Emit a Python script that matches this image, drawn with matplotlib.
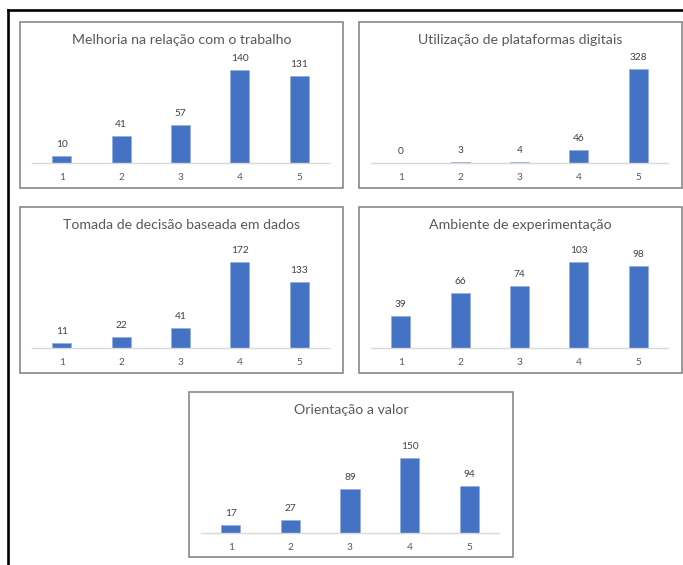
"""Painel com cinco gráficos de barras (escala 1 a 5) sobre práticas de dados."""

import matplotlib.pyplot as plt
from matplotlib.lines import Line2D
from matplotlib.patches import Rectangle

plt.rcParams["font.family"] = ["Lato", "DejaVu Sans"]

categorias = ["1", "2", "3", "4", "5"]

titulos = [
    "Melhoria na relação com o trabalho",
    "Utilização de plataformas digitais",
    "Tomada de decisão baseada em dados",
    "Ambiente de experimentação",
    "Orientação a valor",
]

melhoria = [10, 41, 57, 140, 131]
plataformas = [0, 3, 4, 46, 328]
decisao = [11, 22, 41, 172, 133]
experimentacao = [39, 66, 74, 103, 98]
orientacao = [17, 27, 89, 150, 94]

series = [melhoria, plataformas, decisao, experimentacao, orientacao]

# máximo do eixo y de cada gráfico (eixo não é exibido)
ymax = [150, 350, 200, 120, 200]

# caixas dos gráficos em pixels: (esquerda, topo, largura, altura)
caixas = [
    (20, 22, 323, 166),
    (359, 22, 323, 166),
    (20, 207, 323, 166),
    (359, 207, 323, 166),
    (189, 392, 324, 165),
]

W, H = 683, 565
AZUL = "#4472C4"
CINZA_TEXTO = "#595959"

fig = plt.figure(figsize=(W / 100, H / 100), dpi=100)


def fx(px):
    return px / W


def fy(py):
    return 1 - py / H


# moldura preta (topo e lado esquerdo)
fig.add_artist(Line2D([fx(8), fx(683)], [fy(10), fy(10)], color="black", lw=1.9))
fig.add_artist(Line2D([fx(8), fx(8)], [fy(10), fy(565)], color="black", lw=1.9))

for titulo, valores, top, (x0, y0, w, h) in zip(titulos, series, ymax, caixas):
    fig.add_artist(Rectangle((fx(x0), fy(y0 + h)), w / W, h / H,
                             transform=fig.transFigure, fill=False,
                             edgecolor="#7f7f7f", lw=1.1))
    fig.text(fx(x0 + w / 2), fy(y0 + 18), titulo, ha="center", va="center",
             fontsize=10.2, color=CINZA_TEXTO)

    base = y0 + 141
    ax = fig.add_axes([fx(x0 + 12), fy(base), (w - 26) / W, 100 / H])
    pos = range(1, len(categorias) + 1)
    barras = ax.bar(pos, valores, width=0.32, color=AZUL, edgecolor="#8eaadb",
                    linewidth=0.4)
    ax.bar_label(barras, labels=[str(v) for v in valores], padding=5,
                 fontsize=7.3, color="#404040")
    ax.set_xlim(0.5, 5.5)
    ax.set_ylim(0, top)
    ax.set_xticks(list(pos), categorias)
    ax.tick_params(axis="x", length=0, pad=7, labelsize=7.3, labelcolor=CINZA_TEXTO)
    ax.set_yticks([])
    for lado in ("top", "right", "left"):
        ax.spines[lado].set_visible(False)
    ax.spines["bottom"].set_color("#d9d9d9")
    ax.spines["bottom"].set_linewidth(1.0)
    ax.patch.set_alpha(0)

fig.savefig("out.png", dpi=100, facecolor="white")
